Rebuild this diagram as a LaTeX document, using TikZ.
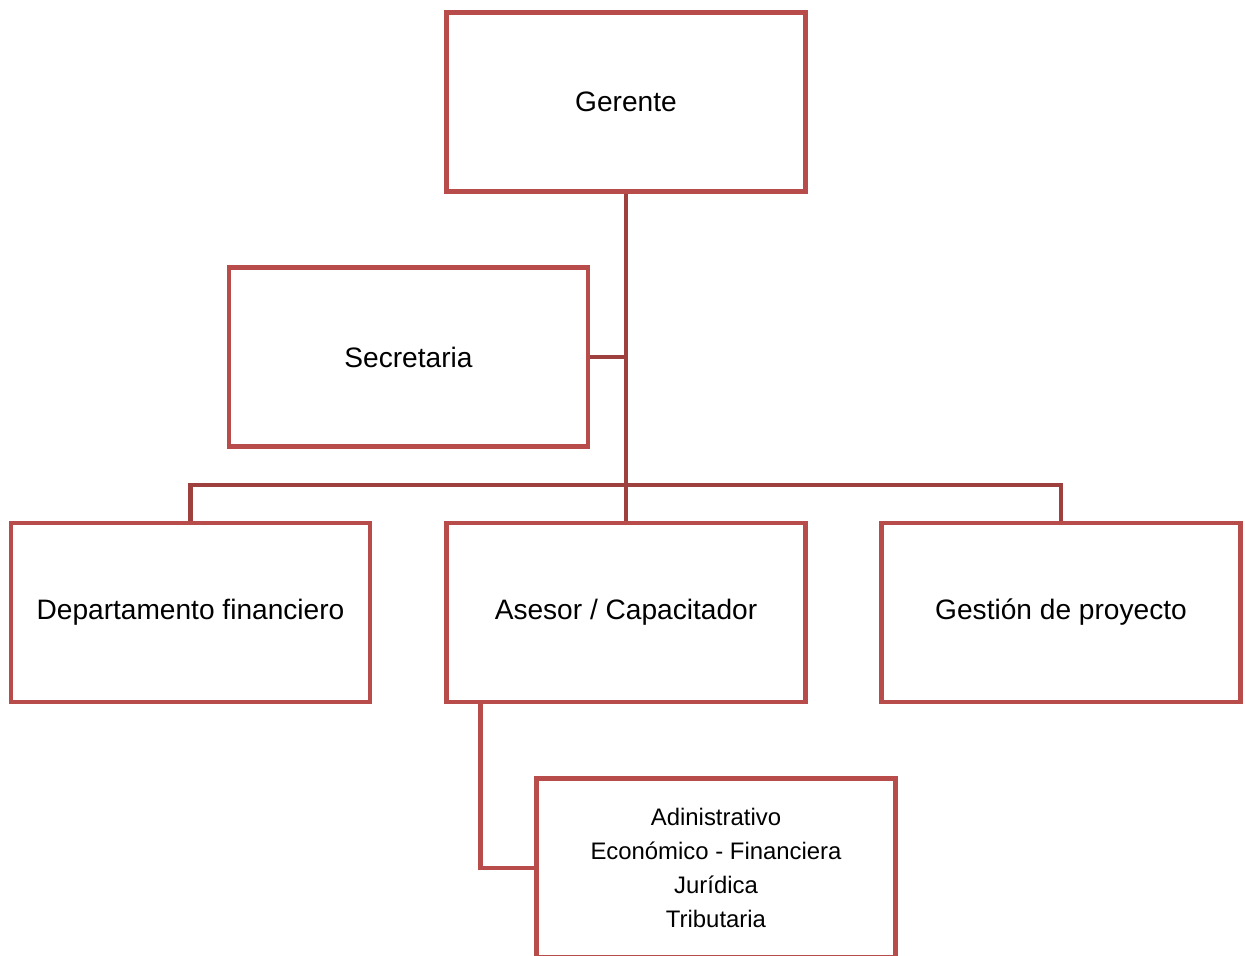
\documentclass[tikz,border=0pt]{standalone}
\usepackage{fontspec}
\setmainfont{Liberation Sans}
\usepackage{xcolor}
\usepackage{tikz}
\definecolor{boxred}{HTML}{B84C4A}
\definecolor{linkred}{HTML}{9E403E}
\tikzset{
    post/.style={draw=boxred, line width=2.5pt, fill=white, minimum width=7.18cm, minimum height=3.58cm, align=center, font=\fontsize{16}{19}\selectfont},
    link/.style={draw=linkred, line width=2.5pt},
    sublink/.style={draw=boxred, line width=2.5pt}
}

\begin{document}
\begin{tikzpicture}[x=0.02cm, y=-0.02cm]
    \useasboundingbox (0,0) rectangle (1245,956);
    \node[post] (gerente) at (626,102) {Gerente};
    \node[post] (secretaria) at (408.5,357) {Secretaria};
    \node[post] (finanzas) at (190.5,612.5) {Departamento financiero};
    \node[post] (asesor) at (626,612.5) {Asesor / Capacitador};
    \node[post] (proyecto) at (1061,612.5) {Gestión de proyecto};
    \node[post, font=\fontsize{13.6}{19.5}\selectfont] (areas) at (716,868) {Adinistrativo\\Económico - Financiera\\Jurídica\\Tributaria};
    \coordinate (bus) at (626,485);
    \coordinate (ramal) at (626,357);
    \draw[link] (gerente.south) -- (asesor.north);
    \draw[link] (secretaria.east) -- (ramal);
    \draw[link] (finanzas.north) |- (bus) -| (proyecto.north);
    \draw[sublink] (asesor.south west) ++(36,0) |- (areas.west);
\end{tikzpicture}
\end{document}
